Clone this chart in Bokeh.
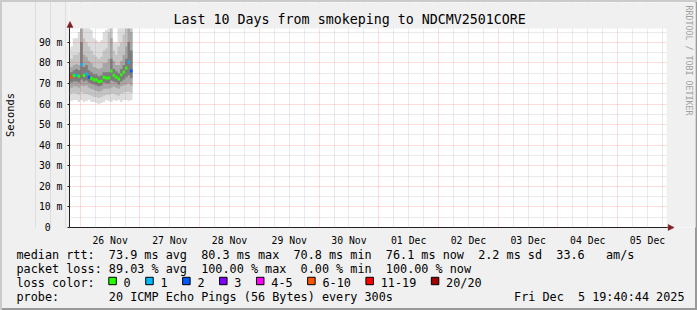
import math
from bokeh.plotting import figure
from bokeh.layouts import column
from bokeh.models import Range1d, FixedTicker, ColumnDataSource, BoxAnnotation
from bokeh.core.properties import value
from bokeh.embed import file_html
from bokeh.resources import INLINE

# ---------------- data ----------------
# hour bins, value = end of the hour, relative to 26 Nov 00:00
hours = list(range(-4, 22))
median_ms = [73.0, 73.2, 73.9, 74.0, 73.5, 79.2, 73.9, 74.6, 73.0, 72.6, 71.8, 71.8, 70.8,
             71.1, 73.0, 72.7, 72.7, 76.1, 74.0, 73.0, 72.2, 74.2, 75.6, 77.6, 80.3, 76.1]
loss_pings = [8, 7, 0, 1, 0, 1, 0, 1, 2, 0, 0, 0, 0, 0, 0, 0, 0, 0, 0, 0, 0, 0, 0, 0, 1, 2]
# smoke layers (ms): outer (min..max) to inner
smoke_lo1 = [62, 61.5, 62, 62, 61, 62, 61, 61.5, 62, 61, 61, 60.5, 60, 60.5, 61, 62, 61.5,
             61, 62, 61.5, 62, 61, 62, 62, 61.5, 62]
smoke_hi1 = [86, 88, 92, 92, 95, 100, 100, 99, 97, 96, 92, 91, 90, 91, 95, 96, 100, 100, 90,
             90, 97, 98, 100, 100, 100, 100]
smoke_lo2 = [65, 65, 65.5, 65, 64.5, 66, 65, 65, 64.5, 64, 63.5, 63.5, 63, 63.5, 64, 64.5,
             64.5, 65, 65, 64.5, 64, 65, 65.5, 66, 66, 65.5]
smoke_hi2 = [81, 82, 84, 84, 85, 100, 92, 90, 88, 86, 84, 83, 82, 83, 86, 87, 95, 100, 86,
             84, 88, 90, 94, 97, 100, 100]
smoke_lo3 = [68, 68, 68.5, 68.5, 68, 69, 68.5, 69, 68, 67.5, 67, 66.5, 66, 66.5, 67.5, 67.5,
             67.5, 68, 68.5, 68, 67.5, 68.5, 69, 69.5, 70, 69]
smoke_hi3 = [78, 78, 79, 79.5, 79, 97, 84, 83, 81, 80, 78, 77.5, 77, 77.5, 80, 80, 82, 92, 81,
             79, 79, 81, 84, 88, 98, 95]
smoke_lo4 = [70.5, 70.5, 71, 71, 70.5, 72, 71, 71.5, 70.5, 70, 69.5, 69, 68.5, 69, 70.5, 70,
             70, 71.5, 71, 70.5, 69.5, 71, 72, 73, 74, 72.5]
smoke_hi4 = [75.5, 75.5, 76.5, 77, 76.5, 90, 78, 79, 76.5, 75.5, 74.5, 74.5, 73.5, 74, 75.5,
             75.5, 75.5, 82, 77, 76, 75, 77, 79, 82, 90, 86]

day_labels = ["26 Nov", "27 Nov", "28 Nov", "29 Nov", "30 Nov",
              "01 Dec", "02 Dec", "03 Dec", "04 Dec", "05 Dec"]
range_start = -4.321   # Tue Nov 25 19:40:44
range_end = 235.679    # Fri Dec  5 19:40:44
y_max = 96.8
y_ticks = [0, 10, 20, 30, 40, 50, 60, 70, 80, 90]
y_minor = [5, 15, 25, 35, 45, 55, 65, 75, 85, 95]

loss_labels = ["0", "1", "2", "3", "4-5", "6-10", "11-19", "20/20"]
loss_limits = [0, 1, 2, 3, 5, 10, 19, 20]
loss_colors = ["#26ff00", "#00b8ff", "#0059ff", "#7e00ff", "#ff00ff", "#ff5500", "#ff0000",
               "#a10000"]

title_text = "Last 10 Days from smokeping to NDCMV2501CORE"
stats_lines = [
    "median rtt:  73.9 ms avg  80.3 ms max  70.8 ms min  76.1 ms now  2.2 ms sd  33.6   am/s",
    "packet loss: 89.03 % avg  100.00 % max  0.00 % min  100.00 % now",
]
legend_head = "loss color:"
probe_text = "probe:       20 ICMP Echo Pings (56 Bytes) every 300s"
date_text = "Fri Dec  5 19:40:44 2025"
credit_text = "RRDTOOL / TOBI OETIKER"

# ---------------- layout constants ----------------
W, H = 697, 310
H1 = 248                       # main figure height
CX0, CX1, CY0, CY1 = 66, 666, 28, 228   # RRD canvas in pixels
FT, FR = 2, 2                  # frame reaches up/right to the 3D border
MONO = "DejaVu Sans Mono"
NB = "\u00a0"
BACK = "#f0f0f0"
ARROW = "#7f1f1f"
ROWS = [254.5, 268.5, 282.3, 296.3]   # text baselines of the legend rows

xs_per_px = (range_end - range_start) / (CX1 - CX0)
ys_per_px = y_max / (CY1 - CY0)


def dx(px):
    return range_start + (px - CX0) * xs_per_px


def dy(py):
    return (CY1 - py) * ys_per_px


def nb(s):
    return s.replace(" ", NB)


# ---------------- main graph ----------------
p = figure(width=W, height=H1, output_backend="svg", toolbar_location=None,
           x_range=Range1d(range_start, dx(W - FR)), y_range=Range1d(0, dy(FT)),
           min_border_left=CX0, min_border_right=FR, min_border_top=FT,
           min_border_bottom=H1 - CY1)
p.border_fill_alpha = 0
p.background_fill_color = "#ffffff"
p.outline_line_color = None

edges = [h - 1 for h in hours] + [hours[-1]]


def ext(a):
    return list(a) + [a[-1]]


for lo, hi, col in [(smoke_lo1, smoke_hi1, "#dddddd"), (smoke_lo2, smoke_hi2, "#c4c4c4"),
                    (smoke_lo3, smoke_hi3, "#a6a6a6"), (smoke_lo4, smoke_hi4, "#7c7c7c")]:
    p.varea_step(x=edges, y1=ext(lo), y2=ext(hi), step_mode="after", fill_color=col)


def loss_color(n):
    for lim, c in zip(loss_limits, loss_colors):
        if n <= lim:
            return c
    return loss_colors[-1]


med_src = ColumnDataSource(dict(x0=[h - 1 for h in hours], x1=hours, y=median_ms,
                                c=[loss_color(n) for n in loss_pings]))
p.segment(x0="x0", x1="x1", y0="y", y1="y", line_color="c", line_width=3, source=med_src)

midnights = [24 * i for i in range(len(day_labels))]
noons = [12 + 24 * i for i in range(len(day_labels))]
six_h = [m + k for m in [-24] + midnights for k in (6, 12, 18)]
p.xgrid.ticker = FixedTicker(ticks=midnights, minor_ticks=six_h)
p.ygrid.ticker = FixedTicker(ticks=y_ticks, minor_ticks=y_minor)
for g in (p.xgrid[0], p.ygrid[0]):
    g.grid_line_color = "#ff0000"
    g.grid_line_alpha = 0.28
    g.grid_line_dash = "1 1"
    g.minor_grid_line_color = "#8c8c8c"
    g.minor_grid_line_alpha = 0.35
    g.minor_grid_line_dash = "1 1"
    g.level = "guide"

# everything outside the RRD canvas keeps the background colour
p.add_layout(BoxAnnotation(bottom=y_max, fill_color=BACK, fill_alpha=1, line_color=None,
                           level="guide"))
p.add_layout(BoxAnnotation(left=range_end, fill_color=BACK, fill_alpha=1, line_color=None,
                           level="guide"))

xa, ya = p.xaxis[0], p.yaxis[0]
xa.ticker = FixedTicker(ticks=noons)
xa.major_label_overrides = {t: lab for t, lab in zip(noons, day_labels)}
xa.bounds = (range_start, dx(CX1 + 4))
ya.ticker = FixedTicker(ticks=y_ticks)
ya.major_label_overrides = {t: (nb(f"{t} m") if t else nb("0  ")) for t in y_ticks}
ya.bounds = (0, dy(CY0 - 4))
for ax in (xa, ya):
    ax.axis_line_color = "#1f1f1f"
    ax.major_label_text_font = MONO
    ax.major_label_text_font_size = "9.8px"
    ax.major_label_text_color = "#000000"
    ax.minor_tick_line_color = None
    ax.major_label_standoff = 5
xa.major_tick_line_color = None
xa.major_label_standoff = 1
ya.major_tick_out = 2
ya.major_tick_in = 0
ya.major_tick_line_color = "#1f1f1f"
ya.axis_label = "Seconds"
ya.axis_label_text_font = MONO
ya.axis_label_text_font_size = "10.4px"
ya.axis_label_text_font_style = "normal"
ya.axis_label_text_color = "#000000"
ya.axis_label_standoff = 20

# axis arrows
arr_y = p.patch(x=[dx(CX0 - 2.5), dx(CX0 + 3.5), dx(CX0 + 0.5)],
                y=[dy(CY0 - 1), dy(CY0 - 1), dy(CY0 - 7)],
                fill_color=ARROW, line_color=ARROW, line_width=0.5)
arr_x = p.patch(x=[dx(CX1 + 1.5), dx(CX1 + 1.5), dx(CX1 + 7.5)],
                y=[dy(CY1 - 3), dy(CY1 + 3), dy(CY1)],
                fill_color=ARROW, line_color=ARROW, line_width=0.5)
# title and vertical credit
t1 = p.text(x=[dx(347.5)], y=[dy(19)], text=[title_text], text_align="center",
            text_baseline="alphabetic", text_font=value(MONO), text_font_size=value("13.3px"),
            text_color="#000000")
t2 = p.text(x=[dx(688)], y=[dy(5)], text=[credit_text], angle=-math.pi / 2,
            text_align="left", text_baseline="middle", text_font=value(MONO),
            text_font_size=value("8.3px"), text_color="#a0a0a0")
for r in (arr_y, arr_x, t1, t2):
    r.level = "overlay"

# ---------------- legend strip ----------------
H2 = H - H1
leg = figure(width=W, height=H2, output_backend="svg", toolbar_location=None,
             x_range=Range1d(0, W), y_range=Range1d(H, H1),
             x_axis_type=None, y_axis_type=None, min_border=0)
leg.border_fill_alpha = 0
leg.background_fill_alpha = 0
leg.outline_line_color = None
leg.grid.visible = False
for fig in (p, leg):
    try:
        fig.frame_align = False
    except Exception:
        pass

text_kw = dict(text_font=value(MONO), text_font_size=value("11.8px"), text_color="#000000",
               text_baseline="alphabetic")
leg.text(x=[16, 16], y=ROWS[:2], text=[nb(s) for s in stats_lines], **text_kw)
leg.text(x=[16], y=[ROWS[2]], text=[nb(legend_head)], **text_kw)

box_left, lab_x = [], []
cursor = 108.3
for lab in loss_labels:
    box_left.append(cursor)
    lab_x.append(cursor + 14.8)
    cursor = cursor + 14.8 + len(lab) * 7.12 + 15
leg.quad(left=box_left, right=[b + 7.5 for b in box_left], top=[276.8] * len(box_left),
         bottom=[284.2] * len(box_left), fill_color=loss_colors, line_color="#000000",
         line_width=1)
leg.text(x=lab_x, y=[ROWS[2]] * len(lab_x), text=loss_labels, **text_kw)
leg.text(x=[16], y=[ROWS[3]], text=[nb(probe_text)], **text_kw)
leg.text(x=[684], y=[ROWS[3]], text=[nb(date_text)], text_align="right", **text_kw)

layout = column(p, leg, spacing=0, styles={
    "background-color": BACK,
    "box-shadow": "inset 2px 2px 0 0 #cbcbcb, inset -2px -2px 0 0 #999999",
})

open("out.html", "w").write(file_html(layout, INLINE))
